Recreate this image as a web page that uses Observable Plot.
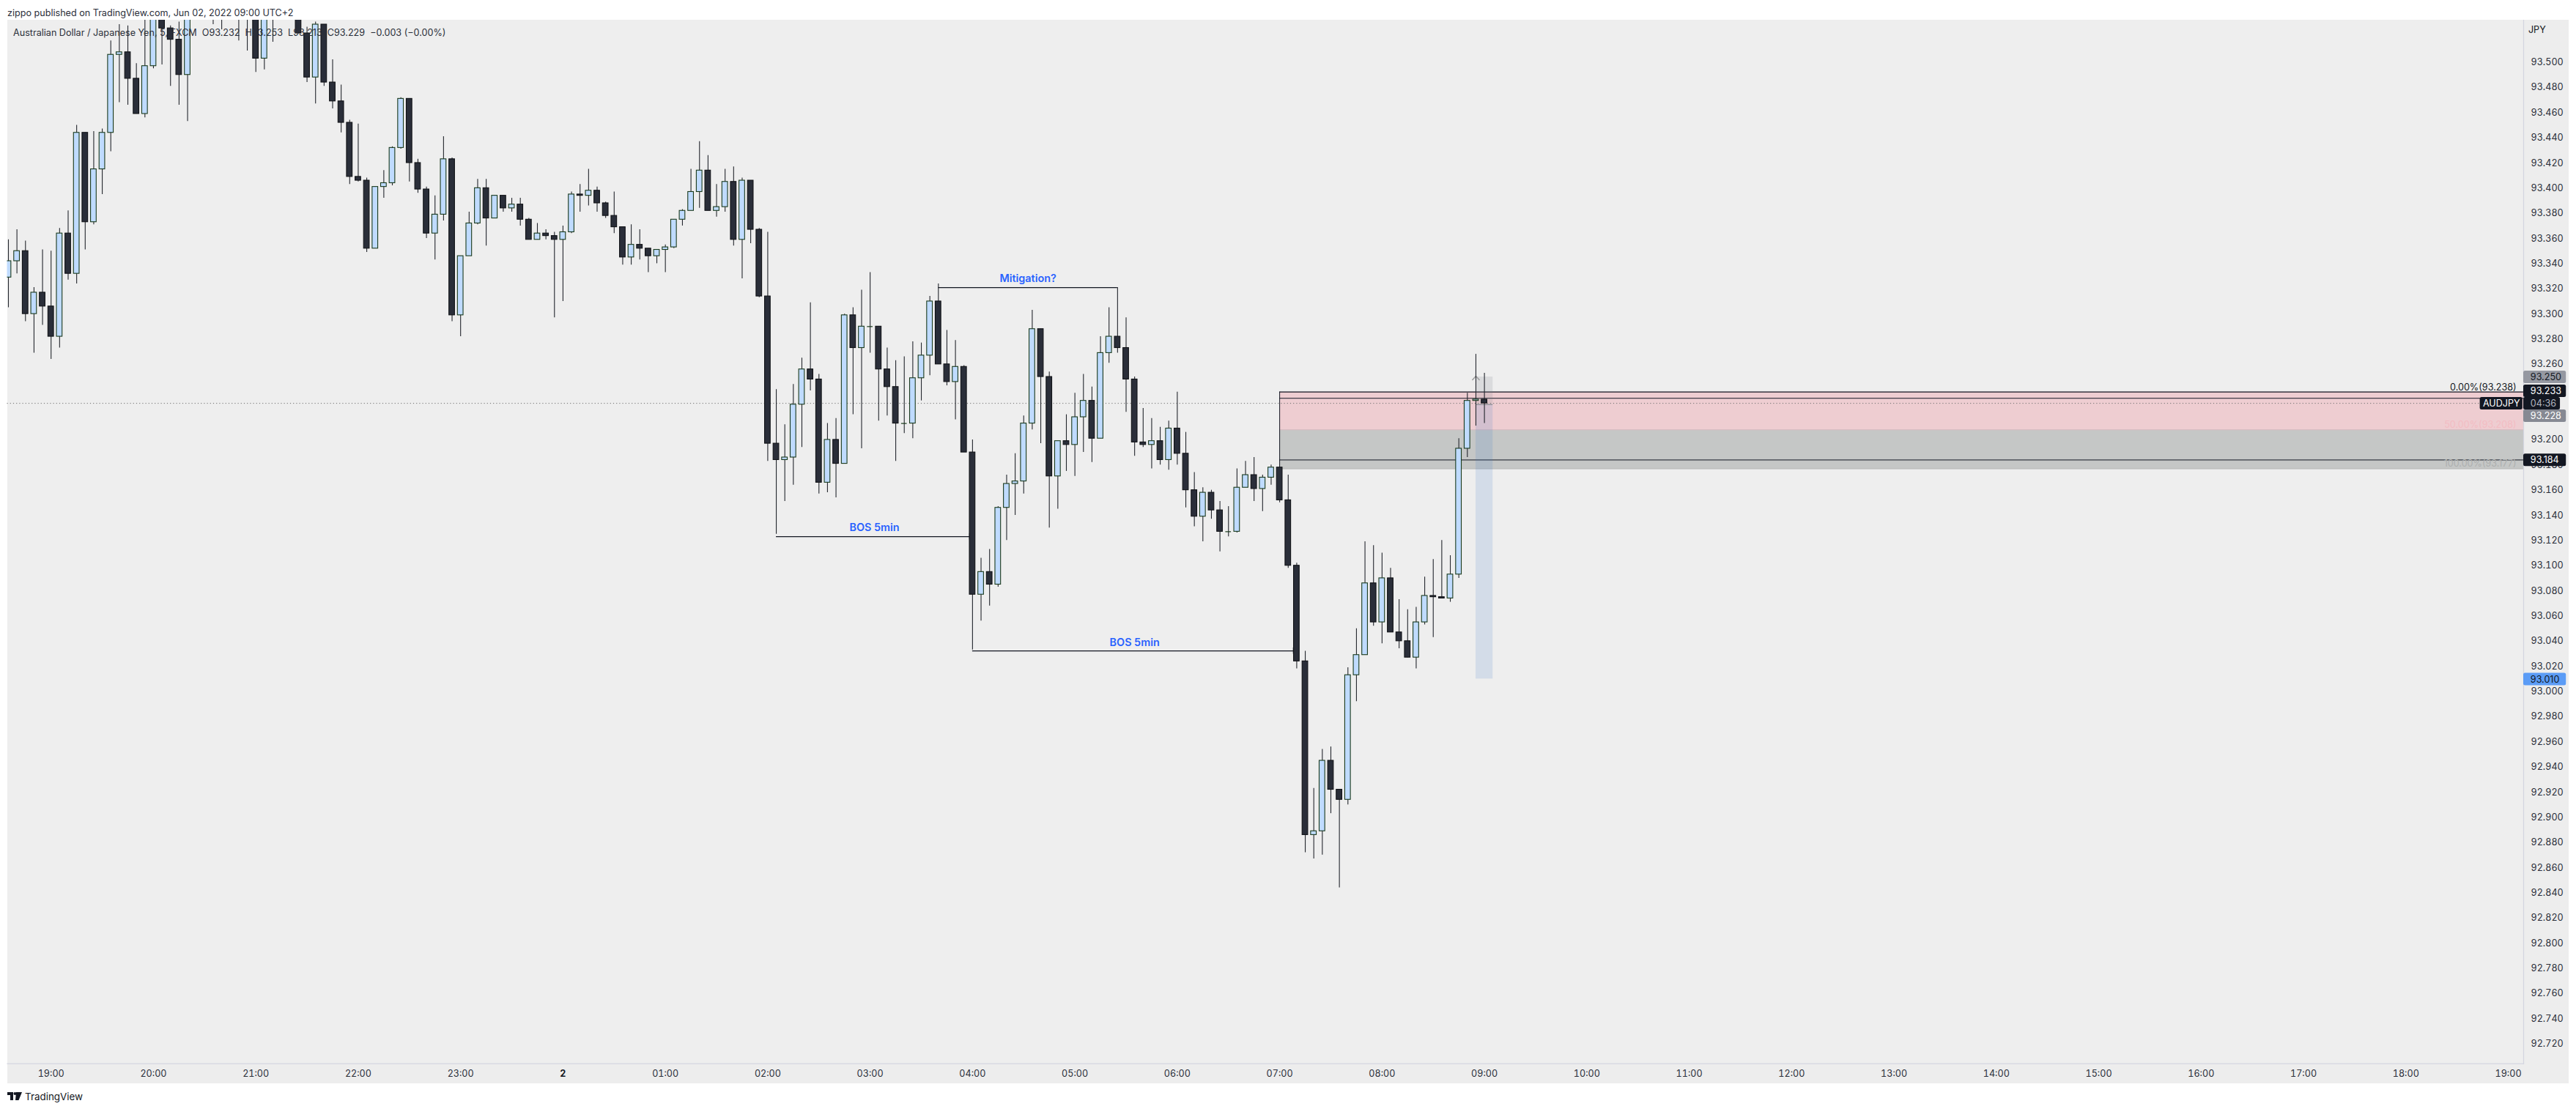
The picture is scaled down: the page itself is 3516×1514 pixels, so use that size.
<!DOCTYPE html>
<html>
<head>
<meta charset="utf-8">
<script src="https://cdn.jsdelivr.net/npm/d3@7"></script>
<script src="https://cdn.jsdelivr.net/npm/@observablehq/plot@0.6"></script>
<style>
  html,body{margin:0;padding:0;background:#fff;width:3516px;height:1514px;overflow:hidden}
  body{font-family:Inter,"Noto Sans",sans-serif;color:#131722;position:relative}
  #panel{position:absolute;left:9.5px;top:27px;width:3496.5px;height:1452px;background:#ededed}
  #chart{position:absolute;left:0;top:0}
  #chart svg{background:transparent!important;display:block}
  .t{position:absolute;white-space:pre;line-height:16px}
</style>
</head>
<body>
<div id="panel"></div>
<div id="chart"></div>
<div class="t" style="left:10px;top:10px;font-size:12.6px;color:#2a2e39">zippo published on TradingView.com, Jun 02, 2022 09:00 UTC+2</div>
<div class="t" style="left:18px;top:37px;font-size:12.6px;color:#2a2e39">Australian Dollar / Japanese Yen, 5, FXCM  O93.232  H93.253  L93.213  C93.229  −0.003 (−0.00%)</div>
<svg class="t" style="left:10px;top:1491px" width="20" height="11" viewBox="0 0 20 11"><path d="M0 0H8V11H4V4H0Z M12 0H20L15.5 11H11Z" fill="#131722"/><circle cx="10.5" cy="2" r="2" fill="#131722"/></svg>
<div class="t" style="left:34px;top:1489px;font-size:13.4px;color:#131722">TradingView</div>
<script>
// Bar positions: index 0 is 19:00, one bar every five minutes.
const firstBar = -5;
// Prices are thousandths above 93.000
const priceBase = 93;
const opens = [
329,342,350,300,317,306,282,364,332,444,373,415,444,506,508,487,459,497,550,527,
518,490,560,575,565,570,560,565,555,560,503,555,565,570,560,523,488,530,484,469,
452,409,406,352,401,404,432,471,420,399,364,379,423,299,346,372,400,376,394,384,
387,375,359,364,362,359,365,395,394,398,388,378,369,345,355,352,346,351,353,375,
382,397,414,382,385,405,359,406,367,314,197,184,186,228,256,248,166,200,181,299,
273,290,290,256,242,213,213,249,267,310,260,246,258,190,77,95,85,146,165,167,
213,288,250,171,199,196,218,231,201,269,282,273,248,198,196,199,184,209,189,160,
139,158,144,127,127,162,172,161,170,178,152,100,24,-114,-111,-55,-78,-86,13,29,
86,55,90,47,40,27,55,76,75,74,93,193,231,232];
const closes = [
342,350,300,317,306,282,364,332,444,373,415,444,506,508,487,459,497,550,527,518,
490,560,575,565,570,560,565,555,560,503,555,565,570,560,523,488,530,484,469,452,
409,406,352,401,404,432,471,420,399,364,379,423,299,346,372,400,376,394,384,387,
375,359,364,362,359,365,395,394,398,388,378,369,345,355,352,346,351,353,375,382,
397,414,382,385,405,359,406,367,314,197,184,186,228,256,248,166,200,181,299,273,
290,290,256,242,213,213,249,267,310,260,246,258,190,77,95,85,146,165,167,213,
288,250,171,199,196,218,231,201,269,282,273,248,198,196,199,184,209,189,160,139,
158,144,127,127,162,172,161,170,178,152,100,24,-114,-111,-55,-78,-86,13,29,86,
55,90,47,40,27,55,76,75,74,93,193,231,232,229];
const highs = [
359,367,358,321,351,350,368,382,450,444,445,447,517,530,529,499,540,555,560,529,
532,565,585,590,585,580,575,570,570,565,560,575,580,580,570,528,532,530,502,482,
454,451,408,401,414,433,472,471,423,401,394,441,424,346,381,407,407,394,394,392,
392,376,372,367,365,370,397,403,415,401,389,397,369,371,367,352,351,355,375,383,
415,437,426,403,415,417,408,406,368,365,240,212,244,265,309,252,213,217,300,305,
319,333,290,273,263,266,278,277,314,324,287,279,259,200,106,113,147,172,189,219,
303,288,254,199,220,237,252,242,282,305,321,297,250,225,217,210,215,238,206,174,
162,160,151,147,177,183,186,172,180,178,172,102,32,-77,-46,-44,-78,19,50,119,
116,110,98,73,65,67,91,105,120,108,201,237,268,253];
const lows = [
305,332,294,269,291,264,273,327,324,351,371,395,429,468,466,459,456,495,498,481,
466,453,545,550,530,526,540,517,509,492,494,516,545,540,523,484,467,481,463,444,
403,405,349,352,392,402,431,405,396,360,343,374,294,282,346,371,354,376,381,381,
370,359,359,359,297,310,364,381,386,381,376,364,339,339,343,333,340,333,352,370,
382,384,382,377,381,354,328,356,313,183,125,151,164,194,239,157,158,154,181,220,
193,269,215,219,183,205,201,231,251,260,243,216,190,33,56,68,83,120,140,157,
208,197,130,145,175,171,190,182,201,261,269,222,187,194,177,180,176,180,146,131,
119,137,111,123,126,162,151,143,164,150,98,18,-128,-133,-130,-97,-156,-90,-8,29,
52,38,47,34,27,18,53,43,74,71,90,186,211,213];

const timeLabels = ["19:00","20:00","21:00","22:00","23:00","2","01:00","02:00","03:00","04:00","05:00","06:00","07:00","08:00","09:00","10:00","11:00","12:00","13:00","14:00","15:00","16:00","17:00","18:00","19:00"];
const barsPerHour = 12;
const priceTicks = d3.range(92720, 93501, 20).map(v => v / 1000);

const fibPrices = [93.238, 93.208, 93.177];
const fibLabels = ["0.00%(93.238)", "50.00%(93.208)", "100.00%(93.177)"];
const fibLabelPrices = [93.2417, 93.2117, 93.1808];
const fibColors = ["#131722", "#f3bcc3", "#adafaf"];
const zoneLines = [93.233, 93.184];
const lastPrice = 93.229;

const bosPrices = [93.123, 93.0322];
const bosStart = [85, 108];
const bosEnd = [108, 146];
const bosText = ["BOS 5min", "BOS 5min"];
const bosTextX = [96.5, 127];
const bosTextY = [93.1301, 93.0387];
const mitigation = {price: 93.321, start: 104, end: 125, label: "Mitigation?", textX: 114.5, textY: 93.328};

const positionStart = 167, positionEnd = 169;
const positionTop = 93.25, positionEntry = 93.228, positionBottom = 93.01;

const badgeLabels = ["93.250", "93.233", "04:36", "93.228", "93.184", "93.010"];
const badgePrices = [93.2497, 93.2387, 93.2288, 93.2189, 93.1838, 93.0096];
const badgeFills = ["#9598a1", "#131722", "#131722", "#868993", "#131722", "#5b9cf6"];
const badgeText = ["#131722", "#ffffff", "#b2b5be", "#ffffff", "#ffffff", "#131722"];
const badgeRight = [294.8, 294.8, 294.1, 294.8, 294.8, 294.8];

const xMin = -5.127, xMax = 289.8, axisTextX = 290.6;
const ink = "#131722";

const bars = opens.map((o, k) => ({
  i: firstBar + k,
  open: priceBase + o / 1000,
  close: priceBase + closes[k] / 1000,
  high: priceBase + highs[k] / 1000,
  low: priceBase + lows[k] / 1000,
  up: closes[k] >= o
}));
const half = 0.33;
const badges = badgeLabels.map((label, k) => ({label, y: badgePrices[k], fill: badgeFills[k], text: badgeText[k], right: badgeRight[k]}));
const halfBadge = 0.00495;
const font = "Inter, 'Noto Sans', sans-serif";

const plot = Plot.plot({
  width: 3516, height: 1514,
  marginLeft: 9.5, marginRight: 72, marginTop: 27, marginBottom: 62.3,
  style: {background: "transparent", fontFamily: font, fontSize: "12.6px", color: ink},
  x: {domain: [xMin, xMax]},
  y: {domain: [92.7042, 93.5335]},
  marks: [
    Plot.frame({fill: "#eeeeee"}),
    // fib zones
    Plot.rect([0], {x1: 144, x2: xMax, y1: fibPrices[1], y2: fibPrices[0], fill: "#eecdd1"}),
    Plot.rect([0], {x1: 144, x2: xMax, y1: fibPrices[2], y2: fibPrices[1], fill: "#c5c7c6"}),
    Plot.ruleY([fibPrices[1]], {x1: 144, x2: xMax, stroke: "#dcb9bf", strokeWidth: 1}),
    Plot.ruleY([fibPrices[2]], {x1: 144, x2: xMax, stroke: "#b4b5b5", strokeWidth: 1.2}),
    Plot.ruleY([fibPrices[0]], {x1: 144, x2: xMax, stroke: ink, strokeWidth: 1.1}),
    Plot.ruleY(zoneLines, {x1: 144, x2: xMax, stroke: ink, strokeWidth: 1}),
    Plot.ruleX([144], {y1: fibPrices[2], y2: fibPrices[0], stroke: ink, strokeWidth: 1}),
    // position tool
    Plot.rect([0], {x1: positionStart, x2: positionEnd, y1: positionEntry, y2: positionTop, fill: "#787b86", fillOpacity: 0.16}),
    Plot.rect([0], {x1: positionStart, x2: positionEnd, y1: positionBottom, y2: positionEntry, fill: "#3f78c8", fillOpacity: 0.15}),
    Plot.ruleY([positionEntry], {x1: positionStart, x2: positionEnd, stroke: "#8d8f96", strokeWidth: 1.2}),
    Plot.line([[166.6, 93.2477], [167, 93.2506], [167.4, 93.2477]], {x: d => d[0], y: d => d[1], stroke: "#9a9a9a", strokeWidth: 1.5, strokeDasharray: "1.5 1"}),
    // last price
    Plot.ruleY([lastPrice], {x1: xMin, x2: 284.7, stroke: "#6f6f6f", strokeWidth: 1, strokeDasharray: "1.2 3"}),
    // annotation lines
    Plot.ruleY(bosPrices, {x1: (d, k) => bosStart[k], x2: (d, k) => bosEnd[k], stroke: ink, strokeWidth: 1.2}),
    Plot.ruleX([107.65, 145.6], {y1: (d, k) => bosPrices[k] - 0.0025, y2: (d, k) => bosPrices[k] + 0.0025, stroke: ink, strokeWidth: 1}),
    Plot.ruleY([mitigation.price], {x1: mitigation.start, x2: mitigation.end, stroke: ink, strokeWidth: 1.2}),
    // candles
    Plot.ruleX(bars, {x: "i", y1: "low", y2: "high", stroke: "#24272e", strokeWidth: 1.1, clip: "frame"}),
    Plot.rect(bars, {x1: d => d.i - half, x2: d => d.i + half, y1: "open", y2: "close",
      fill: d => d.up ? "#bfdbff" : "#2a2e39", stroke: d => d.up ? "#1a3a1c" : "#101216", strokeWidth: 1.1, clip: "frame"}),
    Plot.ruleY(bars.filter(d => d.open === d.close), {x1: d => d.i - half, x2: d => d.i + half, y: "open", stroke: "#1a3a1c", strokeWidth: 1.2}),
    // labels
    Plot.text(bosText, {x: (d, k) => bosTextX[k], y: (d, k) => bosTextY[k], text: d => d, fill: "#2962ff", fontWeight: 600, fontSize: 14.4, fontFamily: font}),
    Plot.text([mitigation.label], {x: mitigation.textX, y: mitigation.textY, text: d => d, fill: "#2962ff", fontWeight: 600, fontSize: 14.4, fontFamily: font}),
    Plot.text(fibLabels, {x: 288.95, y: (d, k) => fibLabelPrices[k], text: d => d, fill: (d, k) => fibColors[k], textAnchor: "end", fontSize: 12.6, fontFamily: font}),
    // axes
    Plot.frame({anchor: "right", stroke: "#d3d5e0", strokeWidth: 1.2}),
    Plot.frame({anchor: "bottom", stroke: "#d3d5e0", strokeWidth: 1.2}),
    Plot.axisY(priceTicks, {anchor: "right", tickSize: 0, tickPadding: 10, tickFormat: d3.format(".3f"), label: null, fontSize: 12.6, fill: "#2a2e39", fontFamily: font}),
    Plot.axisX(timeLabels.map((d, k) => k * barsPerHour).filter(v => timeLabels[v / barsPerHour] !== "2"), {anchor: "bottom", tickSize: 0, tickPadding: 9, tickFormat: v => timeLabels[v / barsPerHour], label: null, fontSize: 12.6, fill: "#2a2e39", fontFamily: font}),
    Plot.axisX(timeLabels.map((d, k) => k * barsPerHour).filter(v => timeLabels[v / barsPerHour] === "2"), {anchor: "bottom", tickSize: 0, tickPadding: 9, tickFormat: v => timeLabels[v / barsPerHour], label: null, fontSize: 12.6, fontWeight: 700, fill: ink, fontFamily: font}),
    Plot.text(["JPY"], {x: 290.35, y: 93.5255, text: d => d, textAnchor: "start", fontSize: 12.6, fill: ink, fontFamily: font}),
    // price badges
    Plot.rect(badges, {x1: xMax, x2: "right", y1: d => d.y - halfBadge, y2: d => d.y + halfBadge, fill: "fill", rx: 2.5}),
    Plot.text(badges, {x: axisTextX, y: "y", text: "label", fill: "text", textAnchor: "start", fontSize: 12.6, fontFamily: font}),
    Plot.rect([0], {x1: 284.7, x2: 289.7, y1: 93.2288 - halfBadge, y2: 93.2288 + halfBadge, fill: "#131722", rx: 2.5}),
    Plot.text(["AUDJPY"], {x: 287.2, y: 93.2288, text: d => d, fill: "#ffffff", fontSize: 12.6, fontFamily: font})
  ]
});
document.getElementById("chart").append(plot);
</script>
</body>
</html>
